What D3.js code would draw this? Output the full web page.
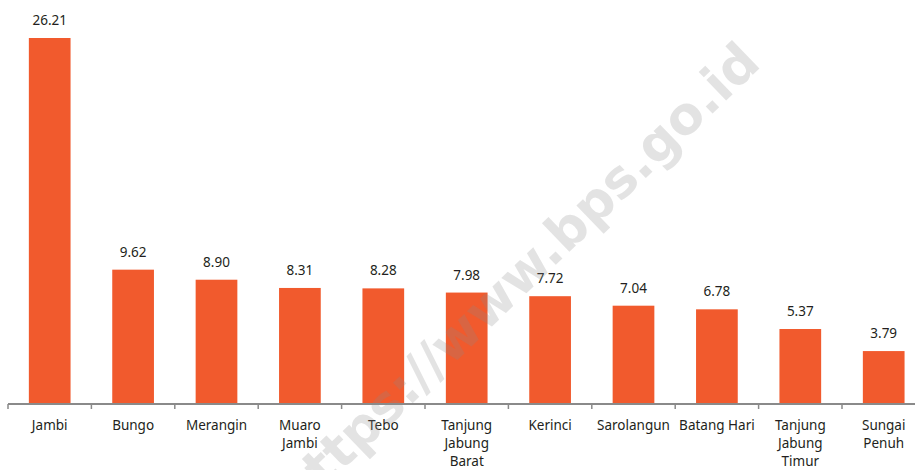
<!DOCTYPE html>
<html>
<head>
<meta charset="utf-8">
<script src="https://cdn.jsdelivr.net/npm/d3@7"></script>
<style>
  body { margin: 0; background: #fff; }
  text { font-family: "Noto Sans", sans-serif; fill: #231f20; }
</style>
</head>
<body>
<div id="chart"></div>
<script>
// Data
var regions = ["Jambi", "Bungo", "Merangin", "Muaro Jambi", "Tebo", "Tanjung Jabung Barat",
  "Kerinci", "Sarolangun", "Batang Hari", "Tanjung Jabung Timur", "Sungai Penuh"];
var values = [26.21, 9.62, 8.90, 8.31, 8.28, 7.98, 7.72, 7.04, 6.78, 5.37, 3.79];
// how each category label is broken into lines
var labelLines = [["Jambi"], ["Bungo"], ["Merangin"], ["Muaro", "Jambi"], ["Tebo"],
  ["Tanjung", "Jabung", "Barat"], ["Kerinci"], ["Sarolangun"], ["Batang Hari"],
  ["Tanjung", "Jabung", "Timur"], ["Sungai", "Penuh"]];

var svgWidth = 915;
var svgHeight = 470;
var margin = { top: 38, right: 0, bottom: 66, left: 8 };
var width = svgWidth - margin.left - margin.right;
var height = svgHeight - margin.top - margin.bottom;

var svg = d3.select("#chart")
  .append("svg")
  .attr("width", svgWidth)
  .attr("height", svgHeight);

var chartGroup = svg.append("g")
  .attr("transform", `translate(${margin.left}, ${margin.top})`);

var xScale = d3.scaleBand()
  .domain(regions)
  .range([0, 83.4 * regions.length])
  .paddingInner(0.5)
  .paddingOuter(0.25);

var yScale = d3.scaleLinear()
  .domain([0, d3.max(values)])
  .range([height, 0]);

// bars
chartGroup.selectAll("rect.bar")
  .data(regions)
  .enter()
  .append("rect")
  .attr("class", "bar")
  .attr("x", d => xScale(d))
  .attr("y", (d, i) => yScale(values[i]))
  .attr("width", xScale.bandwidth())
  .attr("height", (d, i) => height - yScale(values[i]))
  .attr("fill", "#f15a2d");

// value labels
chartGroup.selectAll("text.val")
  .data(regions)
  .enter()
  .append("text")
  .attr("class", "val")
  .attr("x", d => xScale(d) + xScale.bandwidth() / 2)
  .attr("y", (d, i) => yScale(values[i]) - 13)
  .attr("text-anchor", "middle")
  .style("font-size", "13.5px")
  .text((d, i) => values[i].toFixed(2));

// x axis line with ticks between categories
var step = xScale.step();
var axisG = chartGroup.append("g")
  .attr("transform", `translate(0, ${height})`);

axisG.append("line")
  .attr("x1", 0)
  .attr("x2", width)
  .attr("y1", 0)
  .attr("y2", 0)
  .attr("stroke", "#8a8a8a")
  .attr("stroke-width", 2);

axisG.selectAll("line.tick")
  .data(d3.range(regions.length + 1))
  .enter()
  .append("line")
  .attr("class", "tick")
  .attr("x1", i => i * step)
  .attr("x2", i => i * step)
  .attr("y1", 0)
  .attr("y2", 5)
  .attr("stroke", "#8a8a8a")
  .attr("stroke-width", 1.5);

// category labels
var labels = axisG.selectAll("text.cat")
  .data(regions)
  .enter()
  .append("text")
  .attr("class", "cat")
  .attr("text-anchor", "middle")
  .attr("transform", d => `translate(${xScale(d) + xScale.bandwidth() / 2}, 26)`)
  .style("font-size", "13.5px");

labels.selectAll("tspan")
  .data((d, i) => labelLines[i])
  .enter()
  .append("tspan")
  .attr("x", 0)
  .attr("y", (d, j) => j * 18)
  .text(d => d);

// watermark
svg.append("text")
  .attr("transform", "translate(520, 280) rotate(-44)")
  .attr("text-anchor", "middle")
  .attr("dominant-baseline", "middle")
  .style("font-family", "'DejaVu Sans', sans-serif")
  .style("font-size", "52px")
  .style("font-weight", "bold")
  .style("fill", "#888")
  .style("fill-opacity", 0.24)
  .text("https://www.bps.go.id");
</script>
</body>
</html>
